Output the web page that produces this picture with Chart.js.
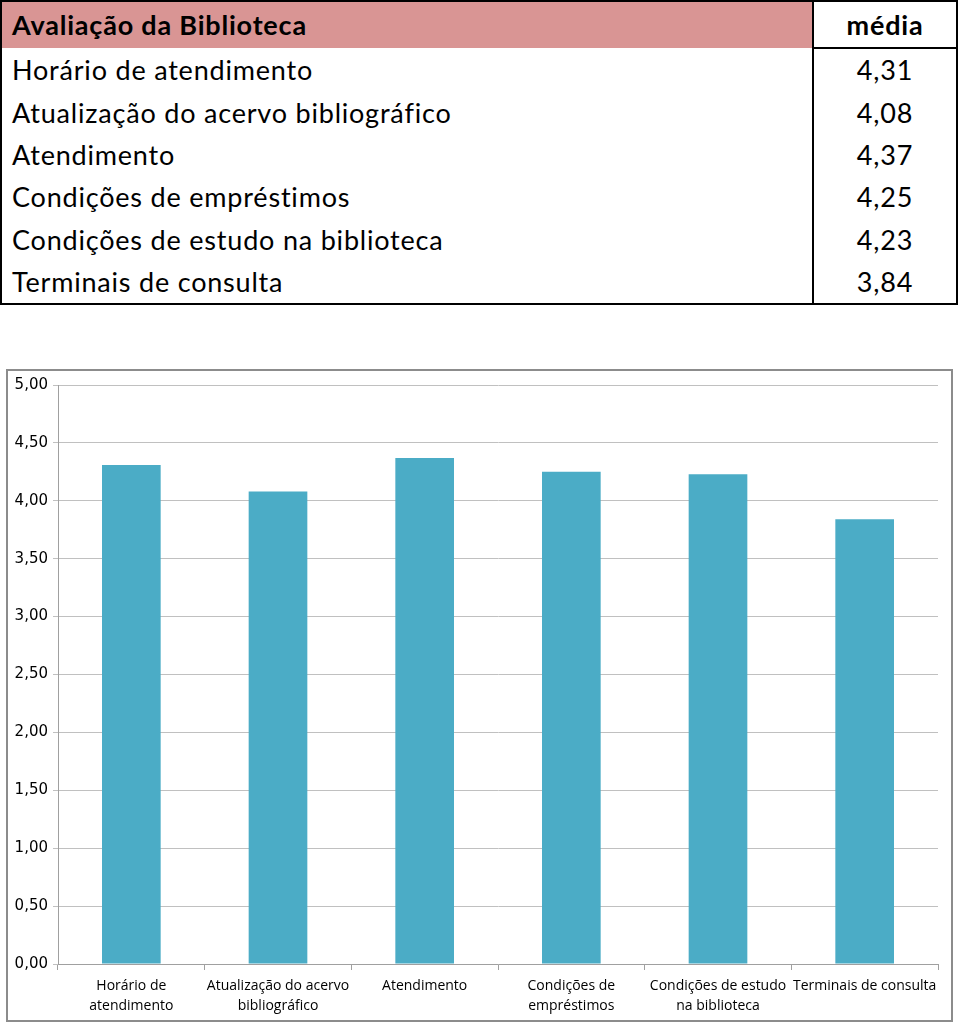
<!DOCTYPE html>
<html><head><meta charset="utf-8">
<script src="https://cdn.jsdelivr.net/npm/chart.js@4/dist/chart.umd.min.js"></script>
<style>
html,body{margin:0;padding:0;background:#fff;width:960px;height:1025px;overflow:hidden}
#tbl{position:absolute;left:2px;top:2px;width:954px;height:301px;border-collapse:collapse;font-family:Lato,"Open Sans",sans-serif;font-size:27px;letter-spacing:0.8px;color:#000}
#tbl td{padding:0 0 0 10px;border:0;height:42px;line-height:42px;white-space:nowrap}
#tbl td.v{text-align:center;padding:0;border-left:2px solid #000;width:142px}
#tbl tr.h td{background:#d99594;font-weight:bold;height:45px}
#tbl tr.h td.v{background:#fff;border-bottom:2px solid #000}
#box{position:absolute;left:6px;top:369px;width:947px;height:653px;border:2px solid #8c8c8c;box-sizing:border-box}
#c{display:block}
</style></head><body>
<table id="tbl" style="outline:2px solid #000"></table>
<div id="box"><canvas id="c" width="943" height="649"></canvas></div>
<script>
const title = "Avaliação da Biblioteca";
const valueHeader = "média";
const categories = ["Horário de atendimento","Atualização do acervo bibliográfico","Atendimento","Condições de empréstimos","Condições de estudo na biblioteca","Terminais de consulta"];
const tickLabels = [["Horário de","atendimento"],["Atualização do acervo","bibliográfico"],["Atendimento"],["Condições de","empréstimos"],["Condições de estudo","na biblioteca"],["Terminais de consulta"]];
const values = [4.31,4.08,4.37,4.25,4.23,3.84];

const fmt = v => v.toFixed(2).replace('.',',');
const tbl = document.getElementById('tbl');
let html = '<tr class="h"><td>'+title+'</td><td class="v">'+valueHeader+'</td></tr>';
categories.forEach((c,i)=>{ html += '<tr><td>'+c+'</td><td class="v">'+fmt(values[i])+'</td></tr>'; });
tbl.innerHTML = html;

new Chart(document.getElementById('c'), {
  type:'bar',
  data:{labels:tickLabels, datasets:[{data:values, backgroundColor:'#4bacc6', categoryPercentage:1, barPercentage:0.4}]},
  options:{
    responsive:false, animation:false,
    layout:{padding:{top:14,right:13,left:0,bottom:0}},
    plugins:{legend:{display:false},tooltip:{enabled:false}},
    scales:{
      y:{min:0,max:5,
        ticks:{stepSize:0.5,callback:v=>fmt(v),color:'#000',font:{family:'"DejaVu Sans", Verdana, sans-serif',size:15},padding:5},
        grid:{color:'#c0c0c0',tickLength:5},
        border:{color:'#a0a0a0'},
        afterFit:s=>{s.width=50;}
      },
      x:{
        ticks:{color:'#000',font:{family:'Open Sans',size:14,lineHeight:1.45},padding:6,maxRotation:0,autoSkip:false},
        grid:{drawOnChartArea:false,color:'#a0a0a0',tickLength:6,offset:true},
        border:{color:'#a0a0a0'},
        afterFit:s=>{s.height=56;}
      }
    }
  }
});
</script>
</body></html>
